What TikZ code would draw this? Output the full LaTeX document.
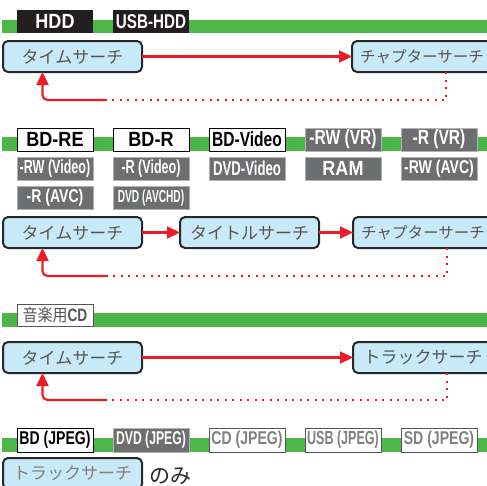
\documentclass[tikz,border=0pt]{standalone}
\usepackage{fontspec}
\setmainfont{Liberation Sans}
\newfontfamily\jpfont{Noto Sans CJK JP}
\newfontfamily\jpcond[FakeStretch=0.88]{Noto Sans CJK JP}
\newfontfamily\wfont[FakeStretch=0.88]{Liberation Sans}
\newfontfamily\cfont[FakeStretch=0.76]{Liberation Sans}
\newfontfamily\ccfont[FakeStretch=0.66]{Liberation Sans}
\newfontfamily\cccfont[FakeStretch=0.58]{Liberation Sans}
\usetikzlibrary{arrows.meta, positioning, calc}
\definecolor{bargreen}{RGB}{76, 182, 72}
\definecolor{tagblack}{RGB}{35, 31, 32}
\definecolor{taggray}{RGB}{109, 110, 112}
\definecolor{boxblue}{RGB}{200, 233, 248}
\definecolor{boxline}{RGB}{40, 40, 40}
\definecolor{txtgray}{RGB}{85, 85, 85}
\definecolor{arrred}{RGB}{237, 28, 36}
\newcommand\tagsize[1]{\fontsize{#1}{#1}\selectfont}

\begin{document}
\begin{tikzpicture}[x=1pt, y=-1pt,
    bar/.style={fill=bargreen, draw=none},
    tag/.style={rectangle, anchor=south west, minimum width=76pt, minimum height=23pt,
                inner sep=0pt, outer sep=0pt},
    tagblk/.style={tag, fill=tagblack, text=white},
    tagwht/.style={tag, fill=white, draw=black, line width=0.9pt, text=black},
    taggry/.style={tag, fill=taggray, draw=gray!60, line width=0.6pt, text=white},
    tagpale/.style={tag, fill=white, draw=txtgray, line width=0.9pt, text=gray},
    wfnt/.style={font=\wfont\bfseries\tagsize{#1}},
    cfnt/.style={font=\cfont\bfseries\tagsize{#1}},
    ccfnt/.style={font=\ccfont\bfseries\tagsize{#1}},
    cccfnt/.style={font=\cccfont\bfseries\tagsize{#1}},
    search/.style={rectangle, rounded corners=5pt, draw=boxline, fill=boxblue,
                   line width=2pt, minimum width=139pt, minimum height=31pt,
                   inner sep=0pt, outer sep=0pt, anchor=north west, text=txtgray,
                   font=\jpfont\tagsize{17}},
    go/.style={-{Triangle[length=13pt, width=12pt]}, arrred, line width=2.2pt},
    back/.style={arrred, line width=2.2pt, dash pattern=on 2pt off 5.5pt}
]
\useasboundingbox (0,0) rectangle (487,485);
\clip (0,0) rectangle (487,485);

% HDD
\fill[bar] (2,20) rectangle (492,33);
\node[tagblk, wfnt=20.5] (hdd) at (17,33) {HDD};
\node[tagblk, cfnt=20, right=20pt of hdd] (usbhdd) {USB-HDD};

\node[search] (time1) at (3,41) {タイムサーチ};
\node[search, minimum width=140pt, font=\jpfont\tagsize{15.5}] (chap1) at (352,41) {チャプターサーチ};
\coordinate (turn1) at (107,100);

\draw[go] (time1) -- (chap1);
\draw[back] ([xshift=24pt]chap1.south) |- (turn1);
\draw[go, rounded corners=5pt] (turn1) -| ([xshift=-30pt]time1.south);

% BD / DVD
\fill[bar] (2,137) rectangle (492,151);
\node[tagwht, wfnt=20.5] (bdre) at (17,151) {BD-RE};
\node[tagwht, wfnt=20.5, right=20pt of bdre] (bdr) {BD-R};
\node[tagwht, cfnt=20.5, right=20pt of bdr] (bdvideo) {BD-Video};
\node[taggry, cfnt=20.5, right=20pt of bdvideo] (rwvr) {-RW (VR)};
\node[taggry, cfnt=20.5, right=20pt of rwvr] (rvr) {-R (VR)};

\node[taggry, ccfnt=19, below=6pt of bdre] (rwvideo) {-RW (Video)};
\node[taggry, ccfnt=19, below=6pt of bdr] (rvideo) {-R (Video)};
\node[taggry, ccfnt=20, below=6pt of bdvideo] (dvdvideo) {DVD-Video};
\node[taggry, wfnt=20.5, below=6pt of rwvr] (ram) {RAM};
\node[taggry, cfnt=18.5, below=6pt of rvr] (rwavc) {-RW (AVC)};

\node[taggry, cfnt=18.5, below=6pt of rwvideo] (ravc) {-R (AVC)};
\node[taggry, cccfnt=17.5, below=6pt of rvideo] (avchd) {DVD (AVCHD)};

\node[search] (time2) at (3,217) {タイムサーチ};
\node[search] (title2) at (180,217) {タイトルサーチ};
\node[search, minimum width=140pt, font=\jpfont\tagsize{15.5}] (chap2) at (353,217) {チャプターサーチ};
\coordinate (turn2) at (107,276);

\draw[go] (time2) -- (title2);
\draw[go] (title2) -- (chap2);
\draw[back] ([xshift=24pt]chap2.south) |- (turn2);
\draw[go, rounded corners=5pt] (turn2) -| ([xshift=-30pt]time2.south);

% CD
\fill[bar] (2,313) rectangle (492,327);
\node[tagpale, minimum height=22pt, text=txtgray] (cda) at (17,326)
    {{\jpcond\tagsize{17}音楽用}{\cfont\bfseries\tagsize{18}CD}};

\node[search] (time3) at (3,342) {タイムサーチ};
\node[search, minimum width=140pt] (track3) at (353,342) {トラックサーチ};
\coordinate (turn3) at (107,400);

\draw[go] (time3) -- (track3);
\draw[back] ([xshift=24pt]track3.south) |- (turn3);
\draw[go, rounded corners=5pt] (turn3) -| ([xshift=-30pt]time3.south);

% JPEG
\fill[bar] (2,438) rectangle (492,452);
\node[tagwht, cfnt=18.5, minimum height=24pt] (bdjpeg) at (17,452) {BD (JPEG)};
\node[taggry, ccfnt=18.5, minimum height=24pt, right=20pt of bdjpeg] (dvdjpeg) {DVD (JPEG)};
\node[tagpale, cfnt=18.5, minimum height=24pt, right=20pt of dvdjpeg] (cdjpeg) {CD (JPEG)};
\node[tagpale, ccfnt=19, minimum height=24pt, right=20pt of cdjpeg] (usbjpeg) {USB (JPEG)};
\node[tagpale, cfnt=18.5, minimum height=24pt, right=20pt of usbjpeg] (sdjpeg) {SD (JPEG)};

\node[search, text=gray] (track4) at (3,458) {トラックサーチ};
\node[anchor=west, text=boxline, font=\jpfont\tagsize{21}, inner sep=0pt] (only) at ([xshift=7pt, yshift=-3pt]track4.east) {のみ};

\end{tikzpicture}
\end{document}
